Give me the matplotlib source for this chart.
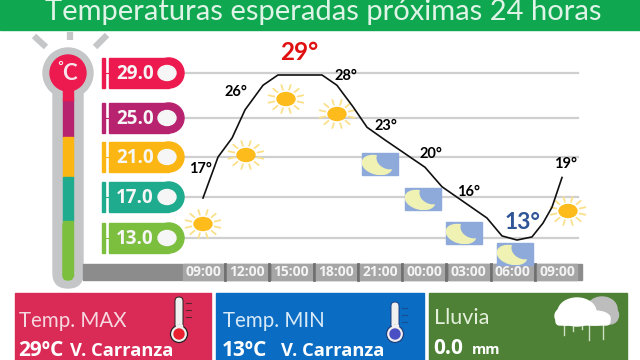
import numpy as np
import matplotlib
matplotlib.use('Agg')
import matplotlib.pyplot as plt
from matplotlib.patches import Rectangle, Ellipse, Circle, FancyBboxPatch

W, H = 640, 360
plt.rcParams['font.family'] = 'Lato'

# data
band_temps = [29.0, 25.0, 21.0, 17.0, 13.0]
band_colors = ['#ed1a4f', '#b8236f', '#fbb614', '#1fab8d', '#7cbf3f']
time_labels = ['09:00', '12:00', '15:00', '18:00', '21:00', '00:00', '03:00', '06:00', '09:00']
time_hours = [0, 3, 6, 9, 12, 15, 18, 21, 24]
label_temps = [17, 26, 29, 28, 23, 20, 16, 13, 19]

# curve
trace_hours = [0.0, 1.02, 1.97, 2.85, 4.07, 5.08, 8.07, 9.08, 10.17, 11.12, 12.34,
               15.05, 16.2, 19.25, 20.27, 21.29, 22.3, 23.05, 23.66, 24.34]
trace_temps = [17.0, 21.0, 22.85, 25.6, 28.0, 29.0, 29.0, 28.0, 25.9, 23.9, 22.66,
               20.0, 18.1, 15.05, 13.3, 12.9, 13.2, 14.55, 16.1, 19.0]

fig = plt.figure(figsize=(W / 100, H / 100), dpi=100)

# overlay in pixel units for the decoration
bg = fig.add_axes([0, 0, 1, 1])
bg.set_xlim(0, W)
bg.set_ylim(H, 0)
bg.axis('off')


def px_axes(left, top, right, bottom):
    return fig.add_axes([left / W, 1 - bottom / H, (right - left) / W, (bottom - top) / H])


def sun(ax, x, y):
    for a in np.arange(0, 360, 30) + 15:
        c, s = np.cos(np.radians(a)), np.sin(np.radians(a))
        ax.plot([x + 12 * c, x + 18 * c], [y + 9.5 * s, y + 14.5 * s], color='#fbe08a', lw=1.3,
                solid_capstyle='round', zorder=4)
    ax.add_patch(Ellipse((x, y), 18, 13, color='#fdbb1c', zorder=5))


def moon(ax, x, y):
    box = Rectangle((x - 18, y - 11), 36, 22, color='#8eaadb', zorder=4)
    ax.add_patch(box)
    body = Ellipse((x - 3, y + 1), 30, 18, angle=15, color='#f0f2b4', zorder=5)
    ax.add_patch(body)
    body.set_clip_path(box)
    cut = Ellipse((x + 9, y - 5), 24, 19, angle=15, color='#8eaadb', zorder=6)
    ax.add_patch(cut)
    cut.set_clip_path(box)


# title bar
bg.add_patch(Rectangle((0, 0), W, 30, color='#0fa750'))
bg.text(323, 12, 'Temperaturas esperadas próximas 24 horas', color='#dff4e7', fontsize=21,
        ha='center', va='center')

# thermometer
for x0, y0, x1, y1 in [(34, 36, 46, 47), (70, 32, 70, 40), (107, 35, 95, 47)]:
    bg.plot([x0, x1], [y0, y1], color='#c4c6c8', lw=4.5, solid_capstyle='butt')
bg.add_patch(Circle((68, 73), 25, color='#c4c6c8'))
bg.add_patch(FancyBboxPatch((53, 80), 30, 208, boxstyle='round,pad=0,rounding_size=15', color='#c4c6c8'))
stem_tops = [98, 137, 177, 221]
stem_bottoms = [137, 177, 221, 276]
stem_colors = ['#b8236f', '#fbb614', '#1fab8d', '#7cbf3f']
bg.add_patch(FancyBboxPatch((63, 221), 10, 59, boxstyle='round,pad=0,rounding_size=4.5', color='#7cbf3f', zorder=2))
for t, b, c in zip(stem_tops, stem_bottoms, stem_colors):
    bg.add_patch(Rectangle((63, t), 10, b - t, color=c, zorder=2))
bg.add_patch(Rectangle((63, 80), 10, 20, color='#ed1a4f', zorder=2))
bg.add_patch(Circle((68, 73), 18, color='#ed1a4f', zorder=3))
bg.text(69, 73, 'C', color='#f8e4ea', fontsize=16, fontweight='bold', ha='center', va='center', zorder=4)
bg.add_patch(Circle((61, 63), 1.6, fill=False, ec='#f8e4ea', lw=0.8, zorder=4))

# x strip
bg.add_patch(Rectangle((83, 264), 499, 16, color='#8c8c8c', zorder=1))

# horizontal lines behind the curve
tag_ys = [73, 118, 157, 197, 238]
for y in tag_ys:
    bg.plot([184, 578], [y, y], color='#cfcfcf', lw=1.6, zorder=1)

# chart
ax = px_axes(185, 40, 578, 262)
x_per_hour = (557 - 203) / 24
ax.set_xlim((185 - 203) / x_per_hour, (578 - 203) / x_per_hour)
y_per_deg = (239 - 75) / 16
ax.set_ylim(13 - (262 - 239) / y_per_deg, 29 + (75 - 40) / y_per_deg)
ax.axis('off')
ax.patch.set_alpha(0)
ax.set_zorder(3)
ax.plot(trace_hours, trace_temps, color='#111111', lw=1.2, zorder=7, clip_on=False)

# point labels, pixel offset off the curve
label_dx = [-3, -11, 8, 10, 6, 7, 0, 10, 9]
label_dy = [29, 14, 22, 9, 10, 13, 16, 16, 13]
for h, t, dx, dy in zip(time_hours, label_temps, label_dx, label_dy):
    col, size = 'black', 10.5
    if t == max(label_temps):
        col, size = '#e01010', 17.5
    elif t == min(label_temps):
        col, size = '#2f5597', 16.5
    ax.annotate(f'{t}°', (h, t), xytext=(dx, dy), textcoords='offset pixels', color=col,
                fontsize=size, fontweight='bold', ha='center', va='center', zorder=8)

# band tags
for temp, col, y in zip(band_temps, band_colors, tag_ys):
    bg.add_patch(Rectangle((102, y - 15), 3, 30, color=col))
    bg.plot([105, 109], [y, y], color=col, lw=0.8)
    bg.add_patch(Rectangle((109, y - 15), 60, 30, color=col))
    bg.add_patch(Circle((169, y), 15, color=col))
    bg.add_patch(Ellipse((167, y), 18, 15, color='#f6f6f6', zorder=3))
    bg.text(135, y + 1, f'{temp:.1f}', color='#f6f6f6', fontsize=13.5, fontweight='bold',
            family='Open Sans', ha='center', va='center', zorder=3)

# weather icons
for x, y in [(203, 224), (246, 155), (286, 99), (337, 114), (568, 211)]:
    sun(bg, x, y)
for x, y in [(380, 164), (423, 199), (464, 233), (515, 254)]:
    moon(bg, x, y)

# time tags
for h, lab in zip(time_hours, time_labels):
    x = 203 + h * x_per_hour
    bg.add_patch(Rectangle((x - 20, 264), 40, 16, color='#a6a6a6', zorder=2))
    if h < max(time_hours):
        bg.plot([x + 22, x + 22], [264, 280], color='#6f6f6f', lw=2, zorder=2)
    bg.text(x, 272.5, lab, color='#f4f4f4', fontsize=10, fontweight='bold',
            family='Open Sans', ha='center', va='center', zorder=5)

# bottom panels
bg.add_patch(Rectangle((15, 293), 196, 67, color='#d92b56'))
bg.add_patch(Rectangle((216, 293), 208, 67, color='#0a6cc2'))
bg.add_patch(Rectangle((429, 293), 198, 67, color='#4e8135'))
bg.text(19, 321, 'Temp. MAX', color='#f6d8e0', fontsize=14.8, ha='left', va='center')
bg.text(223, 321, 'Temp. MIN', color='#d8eaf8', fontsize=14.8, ha='left', va='center')
bg.text(434, 318, 'Lluvia', color='#e4f0dc', fontsize=15.5, ha='left', va='center')
bg.text(18, 350, '29ºC', color='white', fontsize=15, fontweight='bold', family='Open Sans', ha='left', va='center')
bg.text(70, 351, 'V. Carranza', color='white', fontsize=13.2, fontweight='bold', family='Open Sans', ha='left', va='center')
bg.text(222, 350, '13ºC', color='white', fontsize=15, fontweight='bold', family='Open Sans', ha='left', va='center')
bg.text(281, 351, 'V. Carranza', color='white', fontsize=13.2, fontweight='bold', family='Open Sans', ha='left', va='center')
bg.text(433, 348, '0.0', color='white', fontsize=15, fontweight='bold', family='Open Sans', ha='left', va='center')
bg.text(472, 350, 'mm', color='white', fontsize=10.5, fontweight='bold', family='Open Sans', ha='left', va='center')

# panel thermometers
for x, top, bulb, edge in [(179, 297, '#e8202f', '#222222'), (395, 302, '#4a4fc4', '#1f3f80')]:
    bg.add_patch(FancyBboxPatch((x - 4, top), 8, 34, boxstyle='round,pad=0,rounding_size=4', fc='#f0f0f0', ec=edge, lw=0.7, zorder=3))
    bg.add_patch(Circle((x, 334), 8.5, fc='#f0f0f0', ec=edge, lw=0.9, zorder=3))
    bg.add_patch(Rectangle((x - 3.4, 325), 6.8, 6, color='#f0f0f0', zorder=4))
    bg.add_patch(Circle((x, 334), 5, color=bulb, zorder=5))
    for y in [top + 6, top + 13, top + 20]:
        bg.plot([x + 7, x + 12], [y, y], color=edge, lw=0.8, alpha=0.7, zorder=3)

# cloud
for x, y, w, h in [(602, 309, 30, 24), (610, 315, 17, 18)]:
    bg.add_patch(Ellipse((x, y), w, h, color='#bdbdbd', zorder=3))
for x, y, w, h in [(577, 312, 38, 28), (566, 316, 22, 18), (595, 318, 30, 14)]:
    bg.add_patch(Ellipse((x, y), w, h, color='white', zorder=4))
bg.add_patch(FancyBboxPatch((556, 316), 54, 9, boxstyle='round,pad=0,rounding_size=4', color='white', zorder=4))
for x, y1 in [(564, 335), (573, 331), (582, 329), (589, 340), (603, 339)]:
    bg.plot([x, x], [325, y1], color='#cfe0c4', lw=1, zorder=3)

fig.savefig('out.png', dpi=100)
